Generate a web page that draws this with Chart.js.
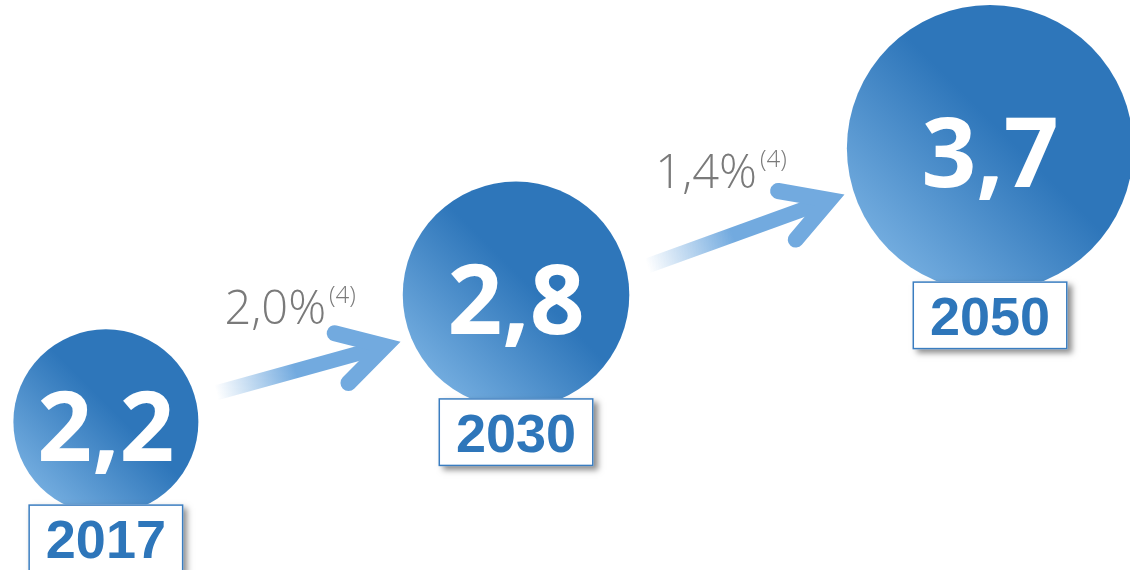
<!DOCTYPE html>
<html>
<head>
<meta charset="utf-8">
<script src="https://cdn.jsdelivr.net/npm/chart.js@4.4.1/dist/chart.umd.min.js"></script>
<style>
html,body{margin:0;padding:0;background:#fff;overflow:hidden}
#wrap{width:1130px;height:570px;position:relative}
</style>
</head>
<body>
<div id="wrap"><canvas id="c" width="1130" height="570"></canvas></div>
<script>
// ---- data ----
const years = ['2017', '2030', '2050'];
const values = [2.2, 2.8, 3.7];
const valueLabels = ['2,2', '2,8', '3,7'];
const growthLabels = ['2,0%', '1,4%'];
const growthNotes = ['(4)', '(4)'];

// ---- styles ----
const DARK = '#2E76BA';
const LIGHT = '#75AEE0';
const ARROW = '#72AADF';
const GREY = '#7A7A7A';

function bubbleRadius(v) { return 47.7 * Math.pow(v, 0.84); }

const overlay = {
  id: 'overlay',
  afterDatasetsDraw(chart) {
    const ctx = chart.ctx;
    const meta = chart.getDatasetMeta(0);
    const pts = meta.data.map((el, i) => ({ x: el.x, y: el.y, r: bubbleRadius(values[i]) }));
    if (pts.some(p => !isFinite(p.x) || !isFinite(p.y))) return;

    // arrows + growth labels
    for (let i = 0; i < pts.length - 1; i++) {
      const a = pts[i], b = pts[i + 1];
      const tx = a.x + a.r + 18, ty = a.y - 29;
      const hx = b.x - b.r - 10, hy = b.y + 49;
      const ang = Math.atan2(hy - ty, hx - tx);
      const lw = 15;
      const hlen = 52, spread = 0.52;
      ctx.save();
      const g = ctx.createLinearGradient(tx, ty, hx, hy);
      g.addColorStop(0, 'rgba(114,170,223,0)');
      g.addColorStop(0.45, 'rgba(114,170,223,1)');
      g.addColorStop(1, 'rgba(114,170,223,1)');
      ctx.strokeStyle = g;
      ctx.lineWidth = lw;
      ctx.lineCap = 'butt';
      const ix = hx - Math.cos(ang) * 8, iy = hy - Math.sin(ang) * 8;
      ctx.beginPath();
      ctx.moveTo(tx, ty);
      ctx.lineTo(ix, iy);
      ctx.stroke();
      // head
      ctx.strokeStyle = ARROW;
      ctx.lineWidth = lw + 1;
      ctx.lineCap = 'round';
      ctx.lineJoin = 'miter';
      ctx.beginPath();
      ctx.moveTo(ix + Math.cos(ang + Math.PI - spread) * hlen, iy + Math.sin(ang + Math.PI - spread) * hlen);
      ctx.lineTo(ix, iy);
      ctx.lineTo(ix + Math.cos(ang + Math.PI + spread) * hlen, iy + Math.sin(ang + Math.PI + spread) * hlen);
      ctx.stroke();
      ctx.restore();

      // label
      const my = (ty + hy) / 2;
      ctx.save();
      ctx.fillStyle = GREY;
      ctx.textBaseline = 'alphabetic';
      ctx.textAlign = 'left';
      ctx.font = '300 47px "Open Sans", "DejaVu Sans", sans-serif';
      const lx = tx + 8, ly = my - 44;
      ctx.fillText(growthLabels[i], lx, ly);
      const w = ctx.measureText(growthLabels[i]).width;
      ctx.font = '300 24px "Open Sans", "DejaVu Sans", sans-serif';
      ctx.fillText(growthNotes[i], lx + w + 3, ly - 21);
      ctx.restore();
    }

    // year boxes
    const bw = 155, bh = 68;
    pts.forEach((p, i) => {
      const top = p.y + p.r - 10;
      const left = p.x - bw / 2;
      ctx.save();
      ctx.shadowColor = 'rgba(0,0,0,0.45)';
      ctx.shadowBlur = 6;
      ctx.shadowOffsetX = 4;
      ctx.shadowOffsetY = 4;
      ctx.fillStyle = '#ffffff';
      ctx.fillRect(left, top, bw, bh);
      ctx.restore();
      ctx.save();
      ctx.strokeStyle = '#3A7DC0';
      ctx.lineWidth = 1.5;
      ctx.strokeRect(left + 0.75, top + 0.75, bw - 1.5, bh - 1.5);
      ctx.fillStyle = DARK;
      ctx.font = '700 54px "Liberation Sans", Arial, sans-serif';
      ctx.textAlign = 'center';
      ctx.textBaseline = 'alphabetic';
      ctx.fillText(years[i], p.x, top + bh / 2 + 20);
      ctx.restore();
    });

    // value text inside circles
    pts.forEach((p, i) => {
      ctx.save();
      ctx.fillStyle = '#ffffff';
      ctx.font = '700 96px "Open Sans", "Liberation Sans", sans-serif';
      ctx.textAlign = 'center';
      ctx.textBaseline = 'alphabetic';
      ctx.fillText(valueLabels[i], p.x, p.y + 39);
      ctx.restore();
    });
  }
};

const chart = new Chart(document.getElementById('c'), {
  type: 'bubble',
  data: {
    datasets: [{
      data: values.map(v => ({ x: v, y: v })),
      clip: false,
      radius: ctx => (ctx.dataIndex === undefined ? 3 : bubbleRadius(values[ctx.dataIndex])),
      borderWidth: 0,
      backgroundColor: ctx => {
        const chart = ctx.chart;
        const xs = chart.scales && chart.scales.x, ys = chart.scales && chart.scales.y;
        if (!xs || !ys || ctx.dataIndex === undefined) return DARK;
        const v = values[ctx.dataIndex];
        const cx = xs.getPixelForValue(v), cy = ys.getPixelForValue(v);
        if (!isFinite(cx) || !isFinite(cy)) return DARK;
        const r = bubbleRadius(v);
        const g = chart.ctx.createLinearGradient(cx - 0.75 * r, cy + 0.75 * r, cx + 0.1 * r, cy - 0.1 * r);
        g.addColorStop(0, LIGHT);
        g.addColorStop(1, DARK);
        return g;
      }
    }]
  },
  options: {
    responsive: false,
    animation: false,
    events: [],
    layout: { padding: 0, autoPadding: false },
    plugins: { legend: { display: false }, tooltip: { enabled: false } },
    scales: {
      x: { type: 'logarithmic', min: 2.0672, max: 4.0174, bounds: 'data', display: false },
      y: { type: 'logarithmic', min: 1.6603, max: 4.903, bounds: 'data', display: false }
    }
  },
  plugins: [overlay]
});
</script>
</body>
</html>
